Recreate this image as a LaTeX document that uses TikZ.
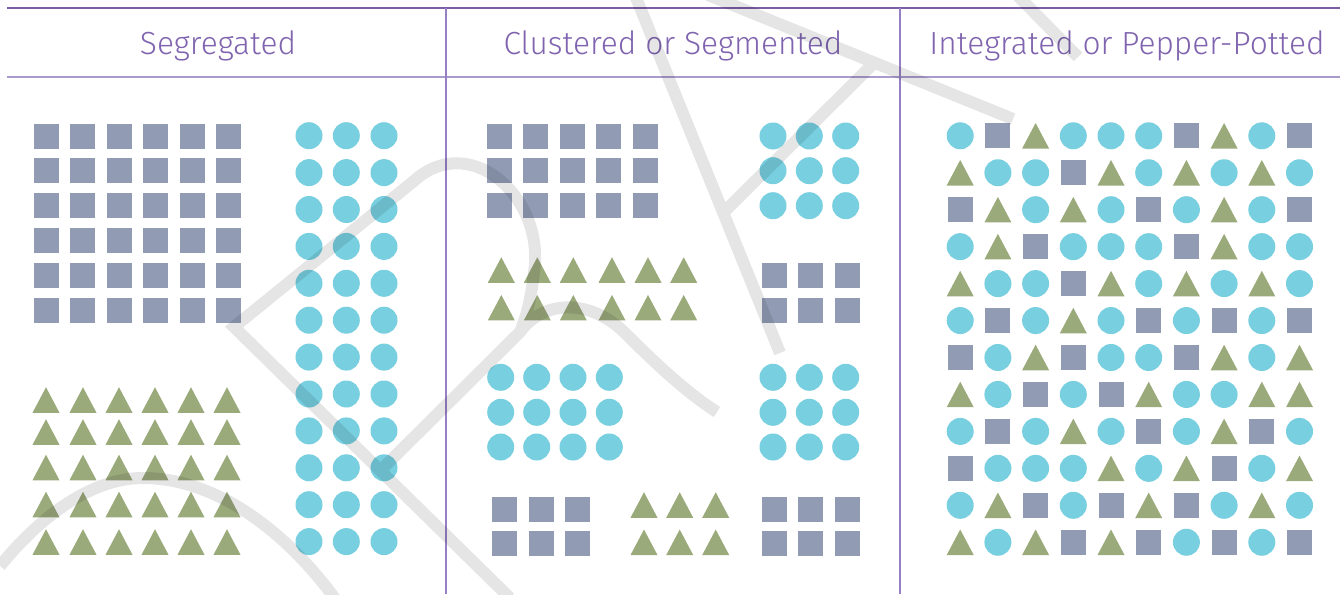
\documentclass[tikz,border=0pt]{standalone}
\usepackage{fontspec}
\IfFontExistsTF{Fira Sans Light}
  {\newfontfamily\hdfont[FakeStretch=0.99]{Fira Sans Light}}
  {\IfFontExistsTF{Lato Light}
    {\newfontfamily\hdfont{Lato Light}}
    {\newfontfamily\hdfont[FakeStretch=0.96]{Fira Sans}}}
\definecolor{circ}{RGB}{119,207,224}
\definecolor{squ}{RGB}{145,156,180}
\definecolor{tri}{RGB}{155,170,123}
\definecolor{purp}{RGB}{123,94,167}
\definecolor{purpl}{RGB}{170,155,205}
\definecolor{purpv}{RGB}{150,128,195}
\definecolor{txtp}{RGB}{128,100,175}
\definecolor{wm}{RGB}{0,2,12}
\newcommand\ShpS[2]{\fill[squ] (#1,#2) ++(-12.5,-12.5) rectangle ++(25,25);}
\newcommand\ShpC[2]{\fill[circ] (#1,#2) circle[radius=13.5pt];}
\newcommand\ShpT[2]{\fill[tri] (#1,#2) ++(-13.5,12.75) -- ++(27,0) -- ++(-13.5,-25.5) -- cycle;}
\tikzset{
  hd/.style={anchor=base, text=txtp, font=\hdfont\fontsize{32}{36}\selectfont, inner sep=0pt},
  wmark/.style={draw=wm, draw opacity=0.1, line width=12pt, line cap=butt, line join=miter}
}
\begin{document}
\begin{tikzpicture}[x=1pt,y=-1pt]
\useasboundingbox (0,0) rectangle (1340,594);
\fill[white] (0,0) rectangle (1340,594);
% frame lines
\draw[purp, line width=1.6pt] (7,8) -- (1340,8);
\draw[purpl, line width=2pt] (7,77) -- (1340,77);
\draw[purpv, line width=1.2pt] (446,8) -- (446,594);
\draw[purpv, line width=1.2pt] (900,8) -- (900,594);
% headers
\node[hd] (h1) at (218,55) {Segregated};
\node[hd] (h2) at (673,55) {Clustered or Segmented};
\node[hd] (h3) at (1127,55) {Integrated or Pepper-Potted};
% ---- Segregated
\foreach \x in {46.5,82.5,119.5,155.5,192.5,228.5}
  \foreach \y in {136.5,170.5,205.5,240.5,275.5,310.5} {\ShpS{\x}{\y}}
\foreach \x in {309,346.3,384}
  \foreach \k in {0,...,11} {\pgfmathsetmacro\yy{135.7+36.9*\k}\ShpC{\x}{\yy}}
\foreach \x in {46,83,119,155,191,227}
  \foreach \y in {400,432,467.5,504.5,542} {\ShpT{\x}{\y}}
% ---- Clustered
\foreach \x in {499.5,535.5,572.5,608.5,645.5}
  \foreach \y in {136.5,170.5,205.5} {\ShpS{\x}{\y}}
\foreach \x in {773,809.3,845.7}
  \foreach \y in {136,170.7,205.7} {\ShpC{\x}{\y}}
\foreach \x in {501.3,537.3,573.3,612,648,683.7}
  \foreach \y in {270,307.7} {\ShpT{\x}{\y}}
\foreach \x in {774.5,810.5,847.5}
  \foreach \y in {275.5,310.5} {\ShpS{\x}{\y}}
\foreach \x in {500.7,536.7,573,609.3}
  \foreach \y in {377.3,412.3,447} {\ShpC{\x}{\y}}
\foreach \x in {773,809.3,845.7}
  \foreach \y in {377.3,412.3,447} {\ShpC{\x}{\y}}
\foreach \x in {504.5,541.5,577.5}
  \foreach \y in {509.5,543.5} {\ShpS{\x}{\y}}
\foreach \x in {644,679.7,715.7}
  \foreach \y in {505,542.3} {\ShpT{\x}{\y}}
\foreach \x in {774.5,810.5,847.5}
  \foreach \y in {509.5,543.5} {\ShpS{\x}{\y}}
% ---- Integrated
\foreach \row [count=\j from 0] in {
  {C,S,T,C,C,C,S,T,C,S},
  {T,C,C,S,T,C,T,C,T,C},
  {S,T,C,T,C,S,C,T,C,S},
  {C,T,S,C,C,C,S,T,C,C},
  {T,C,C,S,T,C,T,C,T,C},
  {C,S,C,T,C,S,C,S,C,S},
  {S,C,T,S,C,C,S,T,C,T},
  {T,C,S,C,S,T,C,C,T,T},
  {C,S,C,T,C,S,C,T,S,C},
  {S,C,C,C,T,C,T,S,C,T},
  {C,T,S,C,S,T,S,C,T,C},
  {T,C,T,S,T,S,C,S,C,S}} {
  \foreach \s [count=\i from 0] in \row {
    \pgfmathsetmacro\px{960.2+37.7*\i}
    \pgfmathsetmacro\py{135.8+36.95*\j}
    \csname Shp\s\endcsname{\px}{\py}
  }
}
% ---- watermark (one path, so overlaps are not darkened twice)
\draw[wmark]
  (0,566) .. controls (50,505) and (100,478) .. (143,478)
          .. controls (215,478) and (285,530) .. (336,600)
  (510,598) -- (234,327) -- (420,176)
          .. controls (475,135) and (545,200) .. (534,272)
          .. controls (531,300) and (526,318) .. (520,332) -- (383,468)
  (520,332) .. controls (545,298) and (592,300) .. (625,333)
          .. controls (660,368) and (690,395) .. (717,412)
  (635,-5) -- (780,353)
  (722,214) -- (873,64)
  (708,-5) -- (1013,119)
  (1017,-5) -- (1078,57);
\end{tikzpicture}
\end{document}
